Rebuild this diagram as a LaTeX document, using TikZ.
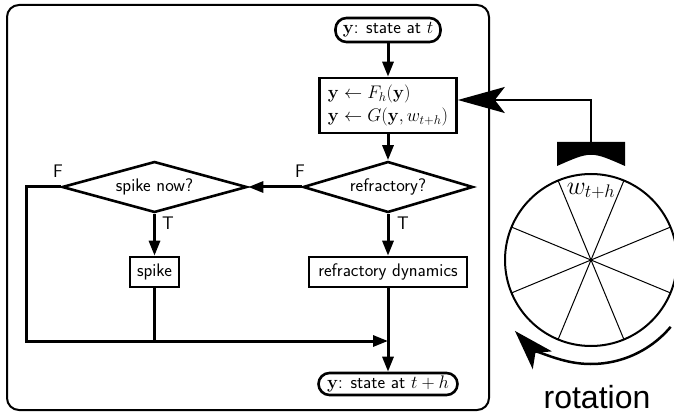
\RequirePackage{fix-cm}
\documentclass[tikz,border=0pt]{standalone}
\usepackage[no-math]{fontspec}
\newfontfamily\rotfont{Liberation Sans}
\usetikzlibrary{arrows.meta,shapes.geometric}
\newcommand\flowfont{\sffamily\fontsize{18.2}{21}\selectfont}
\tikzset{
  flow/.style={line width=3pt},
  arr/.style={flow,-{Triangle[length=15pt,width=11pt]}},
  proc/.style={draw,line width=2.6pt,rectangle,inner sep=0pt,font=\flowfont},
  term/.style={draw,line width=2.6pt,rounded corners=11pt,inner sep=0pt,font=\flowfont},
  dec/.style={draw,line width=2.6pt,diamond,aspect=3.4,inner sep=0pt,font=\flowfont},
  lbl/.style={font=\flowfont,inner sep=0pt}
}
\begin{document}
\begin{tikzpicture}[x=1pt,y=1pt]
\useasboundingbox (0,0) rectangle (674,-414);
% frame
\node[draw,line width=2pt,rounded corners=12pt,minimum width=482pt,minimum height=405pt,inner sep=0pt] (frame) at (248,-207.5) {};
% flowchart nodes
\node[term,minimum width=105pt,minimum height=24pt] (start) at (388,-30) {$\mathbf{y}$: state at $t$};
\node[proc,minimum width=137pt,minimum height=55pt,align=left] (upd) at (388,-105.5) {$\mathbf{y}\leftarrow F_h(\mathbf{y})$\\[2pt]$\mathbf{y}\leftarrow G(\mathbf{y},w_{t+h})$};
\node[dec,minimum width=170pt,minimum height=51pt] (refr) at (388,-187) {refractory?};
\node[dec,minimum width=185pt,minimum height=51pt] (spk) at (154.5,-187) {spike now?};
\node[proc,minimum width=158pt,minimum height=30pt] (rdyn) at (388,-272) {refractory dynamics};
\node[proc,minimum width=49pt,minimum height=30pt] (sbox) at (154.5,-272) {spike};
\node[term,minimum width=139pt,minimum height=22pt] (endn) at (388,-384) {$\mathbf{y}$: state at $t+h$};
% labels
\node[lbl] (f1) at (58,-171) {F};
\node[lbl] (f2) at (300,-171) {F};
\node[lbl] (t1) at (168,-223) {T};
\node[lbl] (t2) at (403,-223) {T};
% connectors
\coordinate (lc) at (26,-341);
\coordinate (m) at (388,-341);
\draw[arr] (start) -- (upd);
\draw[arr] (upd) -- (refr);
\draw[arr] (refr) -- (spk);
\draw[arr] (refr) -- (rdyn);
\draw[arr] (spk) -- (sbox);
\draw[arr] (spk.west) -| (lc) -- (m);
\draw[flow] (sbox) -- (sbox |- m);
\draw[arr] (rdyn) -- (endn);
% wheel
\node[circle,draw,line width=2pt,minimum size=172pt,inner sep=0pt] (wheel) at (591,-260) {};
\foreach \a in {22.5,67.5,...,337.5}
  \draw[line width=1pt] (wheel.center) -- ++(\a:86pt);
\node[font=\fontsize{26}{30}\selectfont,inner sep=0pt] (wl) at (591,-191) {$w_{t+h}$};
% reader bar
\coordinate (bar) at (591,-142);
\fill (557,-142) -- (625,-142) -- (625,-166) .. controls (591,-151) .. (557,-166) -- cycle;
\draw[line width=2pt,-{Stealth[length=47pt,width=26pt,inset=10pt]}] (bar) |- ([yshift=5.5pt]upd.east);
% rotation arrow
\draw[line width=2.5pt,-{Stealth[length=40pt,width=26pt,inset=10pt]}] ([shift={(-40:104pt)}]wheel.center) arc[start angle=-40,end angle=-137,radius=104pt];
\node[font=\rotfont\fontsize{32}{36}\selectfont,anchor=base,inner sep=0pt] (rot) at (597,-408.5) {rotation};
\end{tikzpicture}
\end{document}
